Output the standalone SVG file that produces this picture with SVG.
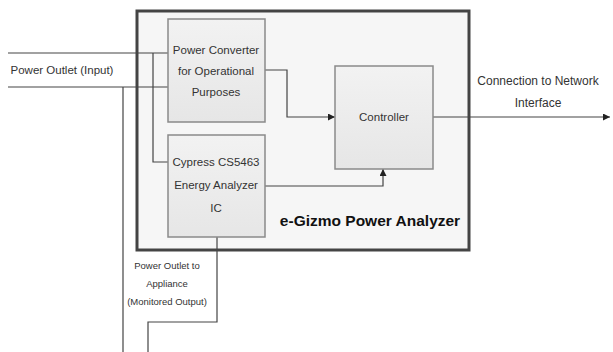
<svg xmlns="http://www.w3.org/2000/svg" width="613" height="352" viewBox="0 0 613 352">
<style>
.t{font-family:"Liberation Sans",Arial,sans-serif;fill:#333;text-anchor:middle}
.box{fill:url(#g);stroke:#8a8a8a;stroke-width:1.5}
.ln{fill:none;stroke:#444;stroke-width:1.2}
</style>
<defs>
<linearGradient id="g" x1="0" y1="0" x2="0" y2="1"><stop offset="0" stop-color="#f2f2f2"/><stop offset="1" stop-color="#e6e6e6"/></linearGradient>
<marker id="a" viewBox="0 0 10 10" refX="10" refY="5" markerWidth="7" markerHeight="7" orient="auto" markerUnits="userSpaceOnUse"><path d="M0,0L10,5L0,10z" fill="#222"/></marker>
</defs>
<rect width="613" height="352" fill="#fff"/>
<g id="analyzer">
<rect x="137" y="11" width="332" height="239" fill="#f6f6f6" stroke="#444" stroke-width="3"/>
<text class="t" x="370" y="226" font-size="15.5" font-weight="bold" style="fill:#111">e-Gizmo Power Analyzer</text>
</g>
<g id="connectors">
<path class="ln" d="M8,53H168"/>
<path class="ln" d="M8,87H168"/>
<path class="ln" d="M153,53V162H168"/>
<path class="ln" d="M123,87V352"/>
<path class="ln" d="M148,352V322H217V237"/>
<path class="ln" d="M265,70H287V117H335" marker-end="url(#a)"/>
<path class="ln" d="M265,186H383V169" marker-end="url(#a)"/>
<path class="ln" d="M433,117H610" marker-end="url(#a)"/>
</g>
<g id="converter">
<rect class="box" x="168" y="19" width="97" height="103"/>
<text class="t" font-size="11.5"><tspan x="216" y="54">Power Converter</tspan><tspan x="216" y="75">for Operational</tspan><tspan x="216" y="96">Purposes</tspan></text>
</g>
<g id="cypress">
<rect class="box" x="168" y="135" width="97" height="102"/>
<text class="t" font-size="11.5"><tspan x="216" y="166">Cypress CS5463</tspan><tspan x="216" y="189">Energy Analyzer</tspan><tspan x="216" y="212">IC</tspan></text>
</g>
<g id="controller">
<rect class="box" x="335" y="66" width="98" height="103"/>
<text class="t" x="384" y="121" font-size="11.5">Controller</text>
</g>
<g id="labels">
<text class="t" x="62" y="74" font-size="11.5">Power Outlet (Input)</text>
<text class="t" font-size="12"><tspan x="538" y="85">Connection to Network</tspan><tspan x="538" y="107">Interface</tspan></text>
<text class="t" font-size="9.5"><tspan x="167" y="269">Power Outlet to</tspan><tspan x="167" y="287">Appliance</tspan><tspan x="167" y="305">(Monitored Output)</tspan></text>
</g>
</svg>
